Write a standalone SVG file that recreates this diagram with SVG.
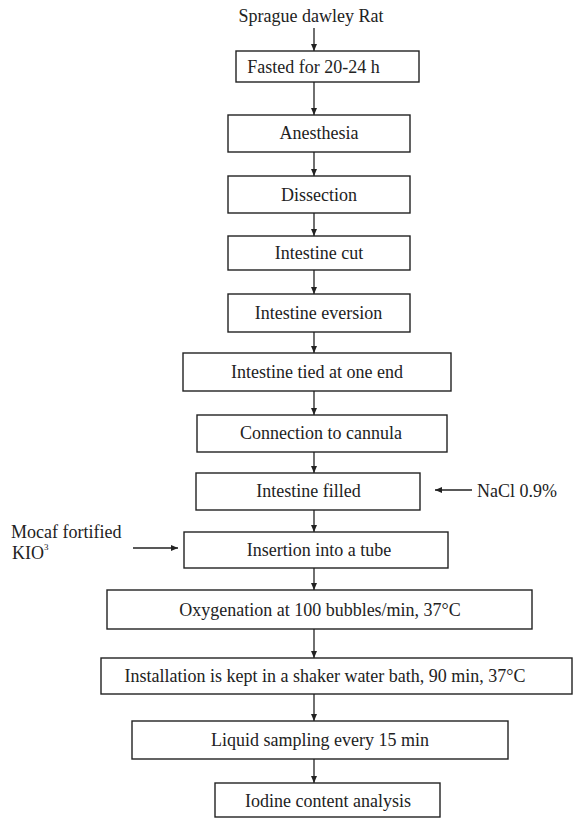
<svg xmlns="http://www.w3.org/2000/svg" width="574" height="818" viewBox="0 0 574 818">
<style>
.box{fill:#fff;stroke:#222;stroke-width:1.4}
.t{font-family:"Liberation Serif","Times New Roman",serif;font-size:18px;fill:#222}
.c{text-anchor:middle}
.ln{stroke:#222;stroke-width:1.3;fill:none}
</style>
<defs>
<marker id="ah" markerWidth="8" markerHeight="8" refX="7" refY="4" orient="auto" markerUnits="userSpaceOnUse">
<path d="M0,1 L7,4 L0,7 Z" fill="#222"/>
</marker>
</defs>
<rect width="574" height="818" fill="#fff"/>
<g id="connectors">
<line class="ln" x1="314" y1="28" x2="314" y2="51" marker-end="url(#ah)"/>
<line class="ln" x1="314" y1="82" x2="314" y2="115" marker-end="url(#ah)"/>
<line class="ln" x1="314" y1="152" x2="314" y2="176" marker-end="url(#ah)"/>
<line class="ln" x1="314" y1="213" x2="314" y2="236" marker-end="url(#ah)"/>
<line class="ln" x1="314" y1="270" x2="314" y2="294" marker-end="url(#ah)"/>
<line class="ln" x1="314" y1="332" x2="314" y2="353" marker-end="url(#ah)"/>
<line class="ln" x1="314" y1="391" x2="314" y2="415" marker-end="url(#ah)"/>
<line class="ln" x1="314" y1="452" x2="314" y2="473" marker-end="url(#ah)"/>
<line class="ln" x1="314" y1="510" x2="314" y2="532" marker-end="url(#ah)"/>
<line class="ln" x1="314" y1="568" x2="314" y2="590" marker-end="url(#ah)"/>
<line class="ln" x1="314" y1="629" x2="314" y2="658" marker-end="url(#ah)"/>
<line class="ln" x1="314" y1="694" x2="314" y2="721" marker-end="url(#ah)"/>
<line class="ln" x1="314" y1="759" x2="314" y2="783" marker-end="url(#ah)"/>
<line class="ln" x1="472" y1="490" x2="435" y2="490" marker-end="url(#ah)"/>
<line class="ln" x1="133" y1="548" x2="178" y2="548" marker-end="url(#ah)"/>
</g>
<g id="start"><text class="t c" x="311" y="22">Sprague dawley Rat</text></g>
<g id="n1"><rect class="box" x="236" y="51" width="183" height="31"/><text class="t c" x="313.5" y="73">Fasted for 20-24 h</text></g>
<g id="n2"><rect class="box" x="228" y="115" width="182" height="37"/><text class="t c" x="319" y="139">Anesthesia</text></g>
<g id="n3"><rect class="box" x="228" y="176" width="182" height="37"/><text class="t c" x="319" y="201">Dissection</text></g>
<g id="n4"><rect class="box" x="228" y="236" width="182" height="34"/><text class="t c" x="319" y="259">Intestine cut</text></g>
<g id="n5"><rect class="box" x="228" y="294" width="182" height="38"/><text class="t c" x="318.5" y="319">Intestine eversion</text></g>
<g id="n6"><rect class="box" x="183" y="353" width="268" height="38"/><text class="t c" x="317" y="378">Intestine tied at one end</text></g>
<g id="n7"><rect class="box" x="197" y="415" width="250" height="37"/><text class="t c" x="321" y="439">Connection to cannula</text></g>
<g id="n8"><rect class="box" x="196" y="473" width="224" height="37"/><text class="t c" x="308.5" y="497">Intestine filled</text></g>
<g id="nacl"><text class="t" x="477" y="497">NaCl 0.9%</text></g>
<g id="mocaf"><text class="t" x="11" y="538">Mocaf fortified</text><text class="t" x="12" y="559">KIO<tspan font-size="9" dy="-9">3</tspan></text></g>
<g id="n9"><rect class="box" x="184" y="532" width="264" height="36"/><text class="t c" x="319" y="556">Insertion into a tube</text></g>
<g id="n10"><rect class="box" x="107" y="590" width="425" height="39"/><text class="t c" x="320" y="616">Oxygenation at 100 bubbles/min, 37°C</text></g>
<g id="n11"><rect class="box" x="101" y="658" width="471" height="36"/><text class="t c" x="325" y="682">Installation is kept in a shaker water bath, 90 min, 37°C</text></g>
<g id="n12"><rect class="box" x="132" y="721" width="376" height="38"/><text class="t c" x="320" y="746">Liquid sampling every 15 min</text></g>
<g id="n13"><rect class="box" x="215" y="783" width="225" height="34"/><text class="t c" x="328" y="807">Iodine content analysis</text></g>
</svg>
